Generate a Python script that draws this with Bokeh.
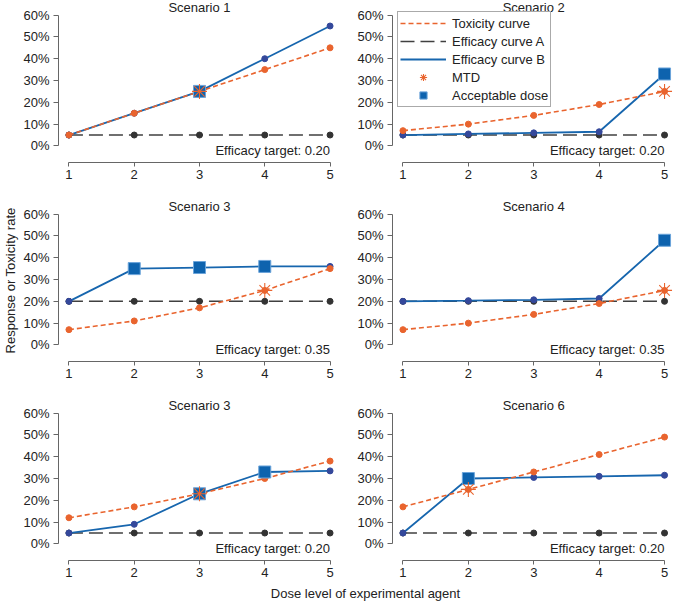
from bokeh.plotting import figure
from bokeh.layouts import column, row
from bokeh.models import Range1d, FixedTicker, NumeralTickFormatter, Label, Legend, LegendItem
from bokeh.embed import file_html
from bokeh.resources import INLINE

# ---------------- data ----------------
doses = [1, 2, 3, 4, 5]
y_ticks = [0.0, 0.1, 0.2, 0.3, 0.4, 0.5, 0.6]
titles = ["Scenario 1", "Scenario 2", "Scenario 3", "Scenario 4", "Scenario 3", "Scenario 6"]
targets = ["0.20", "0.20", "0.35", "0.35", "0.20", "0.20"]

tox_s1 = [0.05, 0.15, 0.25, 0.35, 0.45]
tox_s2 = [0.07, 0.10, 0.14, 0.19, 0.25]
tox_s3 = [0.07, 0.11, 0.17, 0.25, 0.35]
tox_s4 = [0.07, 0.10, 0.14, 0.19, 0.25]
tox_s5 = [0.12, 0.17, 0.23, 0.30, 0.38]
tox_s6 = [0.17, 0.25, 0.33, 0.41, 0.49]

effA_s1 = [0.05, 0.05, 0.05, 0.05, 0.05]
effA_s2 = [0.05, 0.05, 0.05, 0.05, 0.05]
effA_s3 = [0.20, 0.20, 0.20, 0.20, 0.20]
effA_s4 = [0.20, 0.20, 0.20, 0.20, 0.20]
effA_s5 = [0.05, 0.05, 0.05, 0.05, 0.05]
effA_s6 = [0.05, 0.05, 0.05, 0.05, 0.05]

effB_s1 = [0.05, 0.15, 0.25, 0.40, 0.55]
effB_s2 = [0.05, 0.055, 0.06, 0.065, 0.33]
effB_s3 = [0.20, 0.35, 0.355, 0.36, 0.36]
effB_s4 = [0.20, 0.203, 0.207, 0.213, 0.48]
effB_s5 = [0.05, 0.09, 0.23, 0.33, 0.335]
effB_s6 = [0.05, 0.30, 0.305, 0.31, 0.315]

mtd_dose = [3, 5, 4, 5, 3, 2]
acceptable_doses = [[3], [5], [2, 3, 4], [5], [3, 4], [2]]

toxicity = [tox_s1, tox_s2, tox_s3, tox_s4, tox_s5, tox_s6]
efficacy_a = [effA_s1, effA_s2, effA_s3, effA_s4, effA_s5, effA_s6]
efficacy_b = [effB_s1, effB_s2, effB_s3, effB_s4, effB_s5, effB_s6]

# ---------------- style ----------------
FONT = "Liberation Sans"
ORANGE = "#E9642E"
GRAY_LINE = "#404040"
GRAY_DOT = "#333333"
BLUE = "#1766AE"
BLUE_DOT = "#34489B"
SQ_FILL = "#0E63AE"
SQ_LINE = "#6BA4DA"
TXT = "#222222"
AX = "#666666"


def make_panel(i, col, rw):
    last_row = rw == 2
    xr = (0.84, 5.16) if col == 0 else (0.84, 5.137)
    fw = 282 if col == 0 else 281
    p = figure(frame_width=fw, frame_height=162,
               x_range=Range1d(*xr), y_range=Range1d(-0.076, 0.667),
               min_border_left=58 if col == 0 else 52, min_border_right=0,
               min_border_top=0, min_border_bottom=22 if last_row else 37,
               toolbar_location=None, output_backend="svg")
    p.outline_line_color = None
    p.xgrid.visible = False
    p.ygrid.visible = False
    p.background_fill_color = "white"
    p.border_fill_color = "white"

    for ax in (p.xaxis[0], p.yaxis[0]):
        ax.axis_line_color = AX
        ax.major_tick_line_color = AX
        ax.minor_tick_line_color = None
        ax.major_tick_in = 0
        ax.major_label_text_font = FONT
        ax.major_label_text_font_size = "13px"
        ax.major_label_text_color = TXT
    p.xaxis.ticker = FixedTicker(ticks=doses)
    p.xaxis.bounds = (1, 5)
    p.xaxis.major_tick_out = 4
    p.xaxis.major_label_standoff = 3
    p.yaxis.ticker = FixedTicker(ticks=y_ticks)
    p.yaxis.bounds = (0, 0.6)
    p.yaxis.formatter = NumeralTickFormatter(format="0%")
    p.yaxis.major_tick_out = 5
    p.yaxis.major_label_standoff = 4

    if col == 0 and rw == 1:
        p.yaxis.axis_label = "Response or Toxicity rate"
        p.yaxis.axis_label_text_font = FONT
        p.yaxis.axis_label_text_font_size = "13px"
        p.yaxis.axis_label_text_font_style = "normal"
        p.yaxis.axis_label_text_color = TXT
        p.yaxis.axis_label_standoff = 2

    tox = toxicity[i]
    ea = efficacy_a[i]
    eb = efficacy_b[i]

    la = p.line(doses, ea, line_color=GRAY_LINE, line_width=1.5, line_dash="14 6")
    p.scatter(doses, ea, size=6, color=GRAY_DOT)
    lb = p.line(doses, eb, line_color=BLUE, line_width=1.8)
    p.scatter(doses, eb, size=6, color=BLUE_DOT)
    lt = p.line(doses, tox, line_color=ORANGE, line_width=1.6, line_dash="5 3")
    p.scatter(doses, tox, size=6, color=ORANGE)

    acc_x = acceptable_doses[i]
    acc_y = [eb[d - 1] for d in acc_x]
    sq = p.scatter(acc_x, acc_y, marker="square", size=12, fill_color=SQ_FILL,
                   line_color=SQ_LINE, line_width=1)
    m = mtd_dose[i]
    st = p.scatter([m], [tox[m - 1]], marker="asterisk", size=15,
                   line_color=ORANGE, line_width=1.1)

    p.add_layout(Label(x=3, y=0.637, text=titles[i], text_align="center",
                       text_baseline="middle", text_font=FONT,
                       text_font_size="13px", text_color=TXT))
    p.add_layout(Label(x=5, y=-0.02, text="Efficacy target: " + targets[i],
                       text_align="right", text_baseline="middle",
                       text_font=FONT, text_font_size="13px", text_color=TXT))

    if i == 1:
        leg = Legend(items=[
            LegendItem(label="Toxicity curve", renderers=[lt]),
            LegendItem(label="Efficacy curve A", renderers=[la]),
            LegendItem(label="Efficacy curve B", renderers=[lb]),
            LegendItem(label="MTD", renderers=[st]),
            LegendItem(label="Acceptable dose", renderers=[sq]),
        ], location=(5, 55))
        leg.margin = 0
        leg.padding = 2
        leg.spacing = 0
        leg.glyph_width = 46
        leg.glyph_height = 18
        leg.label_height = 18
        leg.label_standoff = 6
        leg.label_text_font = FONT
        leg.label_text_font_size = "13px"
        leg.label_text_color = TXT
        leg.border_line_color = "#555555"
        leg.border_line_width = 1
        leg.background_fill_alpha = 1
        p.add_layout(leg)
    return p


panels = []
for k in range(6):
    panels.append(make_panel(k, k % 2, k // 2))

xlab = figure(width=673, height=19, min_border=0, x_range=Range1d(0, 673),
              y_range=Range1d(0, 19), x_axis_location=None, y_axis_location=None,
              toolbar_location=None, output_backend="svg")
xlab.outline_line_color = None
xlab.xgrid.visible = False
xlab.ygrid.visible = False
xlab.add_layout(Label(x=365, y=8, x_units="screen", y_units="screen",
                      text="Dose level of experimental agent", text_align="center",
                      text_baseline="middle", text_font=FONT,
                      text_font_size="13px", text_color=TXT))

layout = column(row(panels[0], panels[1]), row(panels[2], panels[3]),
                row(panels[4], panels[5]), xlab)

open("out.html", "w").write(file_html(layout, INLINE))
